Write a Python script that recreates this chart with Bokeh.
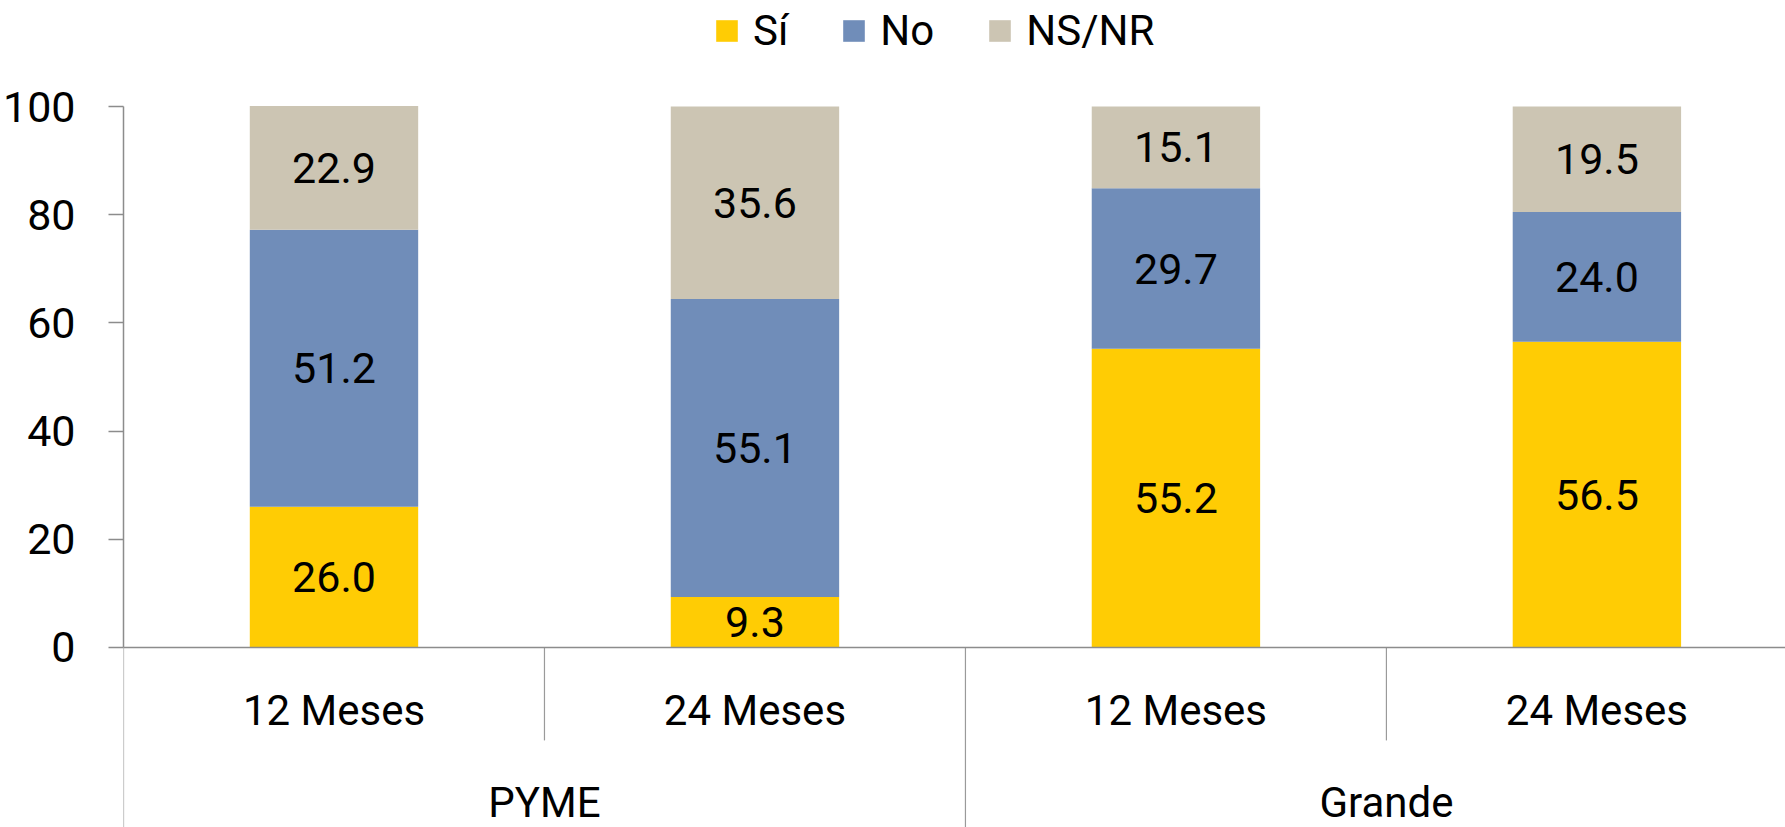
from bokeh.plotting import figure
from bokeh.models import (ColumnDataSource, Range1d, FixedTicker, Span, Legend,
                          LegendItem)
from bokeh.core.properties import value
from bokeh.embed import file_html
from bokeh.resources import INLINE

# ---- data ----
groups = ["PYME", "Grande"]
periods = ["12 Meses", "24 Meses", "12 Meses", "24 Meses"]
series = ["Sí", "No", "NS/NR"]
si = [26.0, 9.3, 55.2, 56.5]
no = [51.2, 55.1, 29.7, 24.0]
nsnr = [22.9, 35.6, 15.1, 19.5]
yticks = [0, 20, 40, 60, 80, 100]

colors = ["#FFCC04", "#708DB9", "#CCC5B3"]
FONT = "Roboto"
W, H = 1785, 827
Y0, Y1 = -33.3, 119.6

xs = [i + 0.5 for i in range(len(periods))]
src = ColumnDataSource(dict(x=xs, si=si, no=no, nsnr=nsnr))

p = figure(width=W, height=H, output_backend="svg", toolbar_location=None,
           x_range=Range1d(0, 3.948), y_range=Range1d(Y0, Y1),
           min_border_left=123, min_border_right=0, min_border_top=0,
           min_border_bottom=0, x_axis_location=None)
p.outline_line_color = None
p.xgrid.visible = False
p.ygrid.visible = False

r = p.vbar_stack(["si", "no", "nsnr"], x="x", width=0.4, source=src,
                 color=colors, line_color=None)

# value labels
lx, ly, lt = [], [], []
for i in range(len(periods)):
    base = 0.0
    for vals in (si, no, nsnr):
        v = vals[i]
        lx.append(xs[i]); ly.append(base + v / 2); lt.append(f"{v:.1f}")
        base += v
p.text(x=lx, y=ly, text=lt, text_align="center", text_baseline="middle",
       text_font=value(FONT), text_font_size="43px", text_color="black")

# y axis
ax = p.yaxis[0]
ax.bounds = (0, 100)
ax.ticker = FixedTicker(ticks=yticks)
ax.minor_tick_line_color = None
ax.major_tick_in = 0
ax.major_tick_out = 15
ax.major_tick_line_color = "#8C8C8C"
ax.major_tick_line_width = 1.5
ax.axis_line_color = "#8C8C8C"
ax.axis_line_width = 1.5
ax.major_label_standoff = 33
ax.major_label_text_font = FONT
ax.major_label_text_font_size = "43px"
ax.major_label_text_color = "black"

# baseline
p.add_layout(Span(location=0, dimension="width", line_color="#8C8C8C",
                  line_width=1.5))

# category separators
n = len(periods)
full_x = [0, 2, 4]
short_x = [1, 3]
p.segment(x0=full_x, y0=[0]*3, x1=full_x, y1=[Y0]*3,
          line_color="#9A9A9A", line_width=1.2)
p.segment(x0=short_x, y0=[0]*2, x1=short_x, y1=[-17.2]*2,
          line_color="#9A9A9A", line_width=1.2)

# category labels
p.text(x=xs, y=[-11.65]*n, text=periods, text_align="center",
       text_baseline="middle", text_font=value(FONT), text_font_size="42px",
       text_color="black")
p.text(x=[1, 3], y=[-28.6]*2, text=groups, text_align="center",
       text_baseline="middle", text_font=value(FONT), text_font_size="42px",
       text_color="black")

legend = Legend(items=[LegendItem(label=s, renderers=[r[k]])
                       for k, s in enumerate(series)],
                orientation="horizontal", location=(590, 772))
legend.glyph_width = 27
legend.glyph_height = 27
legend.label_standoff = 13
legend.spacing = 52
legend.padding = 0
legend.margin = 0
legend.border_line_color = None
legend.background_fill_alpha = 0
legend.label_text_font = FONT
legend.label_text_font_size = "42px"
legend.label_text_color = "black"
p.add_layout(legend, "center")

open("out.html", "w").write(file_html(p, INLINE))
